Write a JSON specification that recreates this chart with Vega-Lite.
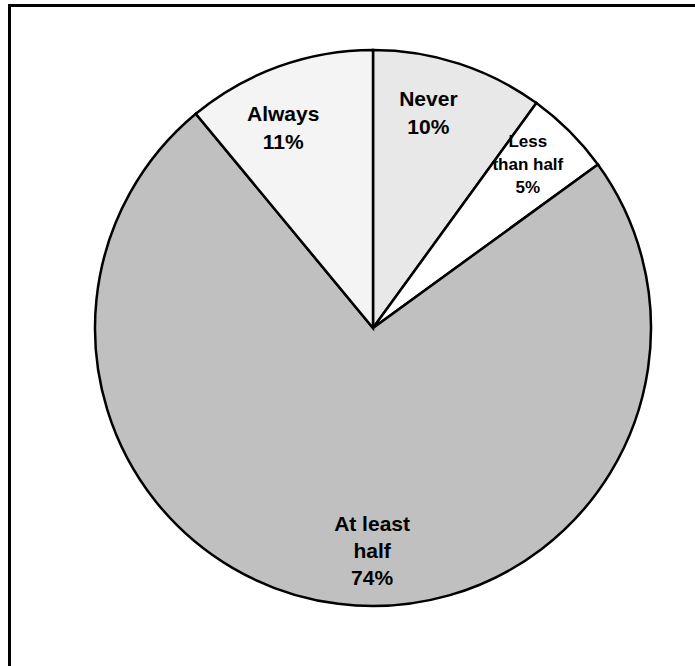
{
  "$schema": "https://vega.github.io/schema/vega-lite/v6.json",
  "width": 700,
  "height": 680,
  "autosize": "none",
  "padding": {"left": 9.5, "top": 5.5, "right": 0, "bottom": 0},
  "background": "white",
  "view": {"stroke": "black", "strokeWidth": 3, "fill": "white"},
  "data": {
    "values": [
      {"k": 1, "answer": "Never", "pct": 10, "label": "Never\n10%"},
      {"k": 2, "answer": "Less than half", "pct": 5, "label": "Less\nthan half\n5%"},
      {"k": 3, "answer": "At least half", "pct": 74, "label": "At least\nhalf\n74%"},
      {"k": 4, "answer": "Always", "pct": 11, "label": "Always\n11%"}
    ]
  },
  "encoding": {
    "theta": {"field": "pct", "type": "quantitative", "stack": true},
    "order": {"field": "k", "type": "quantitative", "sort": "ascending"}
  },
  "layer": [
    {
      "mark": {"type": "arc", "outerRadius": 278, "stroke": "black", "strokeWidth": 2.5, "x": 363.5, "y": 322.5},
      "encoding": {
        "color": {
          "field": "answer",
          "type": "nominal",
          "scale": {"domain": ["Never", "Less than half", "At least half", "Always"], "range": ["#e8e8e8", "#ffffff", "#c0c0c0", "#f4f4f4"]},
          "legend": null
        }
      }
    },
    {
      "mark": {"type": "text", "radius": 218, "x": 363.5, "y": 322.5, "dx": -12, "dy": -21, "font": "Liberation Sans", "fontWeight": "bold", "fontSize": 21, "lineBreak": "\n", "lineHeight": 28, "baseline": "middle", "align": "center", "color": "black"},
      "encoding": {"text": {"condition": {"test": "datum.k == 1", "field": "label"}, "value": ""}}
    },
    {
      "mark": {"type": "text", "radius": 218, "x": 363.5, "y": 322.5, "dx": -16, "dy": -8, "font": "Liberation Sans", "fontWeight": "bold", "fontSize": 21, "lineBreak": "\n", "lineHeight": 28, "baseline": "middle", "align": "center", "color": "black"},
      "encoding": {"text": {"condition": {"test": "datum.k == 4", "field": "label"}, "value": ""}}
    },
    {
      "mark": {"type": "text", "radius": 226, "x": 363.5, "y": 322.5, "dx": -5, "dy": -26, "font": "Liberation Sans", "fontWeight": "bold", "fontSize": 17, "lineBreak": "\n", "lineHeight": 23, "baseline": "middle", "align": "center", "color": "black"},
      "encoding": {"text": {"condition": {"test": "datum.k == 2", "field": "label"}, "value": ""}}
    },
    {
      "mark": {"type": "text", "radius": 223, "x": 363.5, "y": 322.5, "dx": 27, "dy": -24, "font": "Liberation Sans", "fontWeight": "bold", "fontSize": 21, "lineBreak": "\n", "lineHeight": 27, "baseline": "middle", "align": "center", "color": "black"},
      "encoding": {"text": {"condition": {"test": "datum.k == 3", "field": "label"}, "value": ""}}
    }
  ]
}
